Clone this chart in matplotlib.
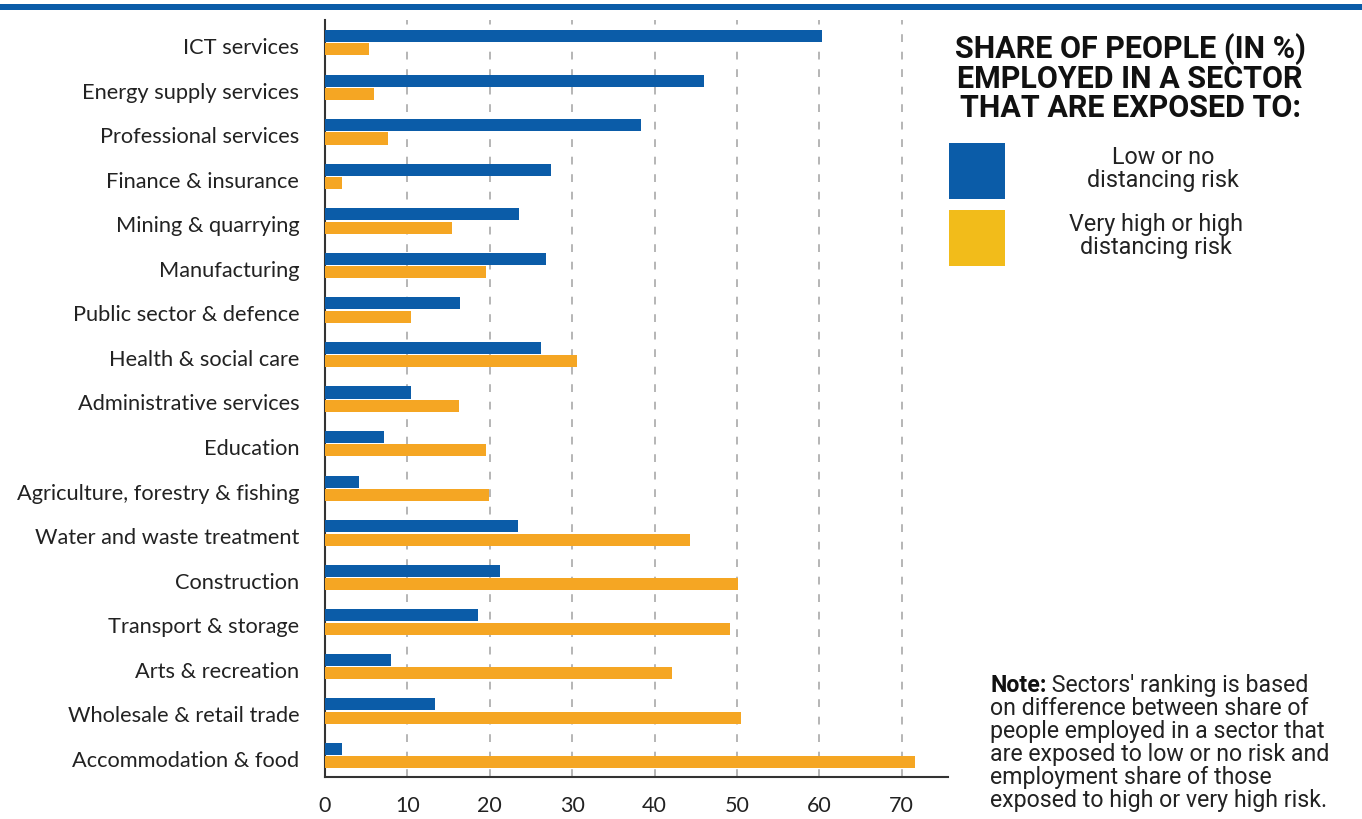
import matplotlib
matplotlib.use("Agg")
import matplotlib.pyplot as plt
import numpy as np
from matplotlib.patches import Rectangle

sectors = [
    "ICT services", "Energy supply services", "Professional services",
    "Finance & insurance", "Mining & quarrying", "Manufacturing",
    "Public sector & defence", "Health & social care",
    "Administrative services", "Education",
    "Agriculture, forestry & fishing", "Water and waste treatment",
    "Construction", "Transport & storage", "Arts & recreation",
    "Wholesale & retail trade", "Accommodation & food",
]
low_risk = [60.3, 46.0, 38.3, 27.4, 23.5, 26.8, 16.4, 26.2, 10.4, 7.2,
            4.1, 23.4, 21.3, 18.6, 8.0, 13.3, 2.1]
high_risk = [5.3, 5.9, 7.6, 2.1, 15.4, 19.5, 10.4, 30.6, 16.3, 19.5,
             19.9, 44.3, 50.1, 49.2, 42.1, 50.5, 71.6]
xticks = [0, 10, 20, 30, 40, 50, 60, 70]

BLUE = "#0b5ca8"
ORANGE = "#f5a623"
YELLOW = "#f2bc1a"

fig = plt.figure(figsize=(13.62, 8.2), dpi=100)
ax = fig.add_axes([0.2386, 0.0512, 0.4574, 0.9232])

y = np.arange(len(sectors))
ax.barh(y - 0.2, low_risk, height=0.27, color=BLUE, zorder=3)
ax.barh(y + 0.1, high_risk, height=0.27, color=ORANGE, zorder=3)

ax.set_ylim(len(sectors) - 0.57, -0.56)
ax.set_xlim(0, 75.6)
ax.set_yticks(y)
ax.set_yticklabels(sectors, family="Lato", fontsize=15.7, color="#222222")
ax.set_xticks(xticks)
ax.set_xticklabels([str(t) for t in xticks], family="Lato", fontsize=15.5, color="#222222")
ax.tick_params(axis="both", length=0)
ax.tick_params(axis="y", pad=18.5)
ax.tick_params(axis="x", pad=13)

ax.grid(axis="x", color="#b5b5b5", linestyle=(0, (4, 5)), linewidth=1.4, zorder=0)
ax.set_axisbelow(True)
for s in ["top", "right"]:
    ax.spines[s].set_visible(False)
for s in ["left", "bottom"]:
    ax.spines[s].set_color("#333333")
    ax.spines[s].set_linewidth(1.5)

# top blue band
fig.add_artist(Rectangle((0, 1 - 11 / 820), 1, 6 / 820, transform=fig.transFigure,
                         color=BLUE, lw=0))

# legend title
fig.text(1130 / 1362, 1 - 78 / 820,
         "SHARE OF PEOPLE (IN %)\nEMPLOYED IN A SECTOR\nTHAT ARE EXPOSED TO:",
         family="Roboto", weight="bold", fontsize=22, ha="center", va="center",
         linespacing=0.95, color="#111111")

# legend patches
fig.add_artist(Rectangle((949 / 1362, 1 - 200 / 820), 56 / 1362, 56 / 820,
                         transform=fig.transFigure, color=BLUE, lw=0))
fig.add_artist(Rectangle((949 / 1362, 1 - 267 / 820), 56 / 1362, 56 / 820,
                         transform=fig.transFigure, color=YELLOW, lw=0))
fig.text(1163 / 1362, 1 - 169 / 820, "Low or no\ndistancing risk",
         family="Roboto", fontsize=16.8, ha="center", va="center", linespacing=1.0,
         color="#222222")
fig.text(1156 / 1362, 1 - 236 / 820, "Very high or high\ndistancing risk",
         family="Roboto", fontsize=16.8, ha="center", va="center", linespacing=1.0,
         color="#222222")

# note
note = fig.text(990 / 1362, 1 - 686 / 820, "Note:", family="Roboto", weight="bold",
                fontsize=16.7, ha="left", va="center", color="#111111")
fig.text(990 / 1362, 1 - 697 / 820,
         "on difference between share of\n"
         "people employed in a sector that\n"
         "are exposed to low or no risk and\n"
         "employment share of those\n"
         "exposed to high or very high risk.",
         family="Roboto", fontsize=16.7, ha="left", va="top", linespacing=1.0,
         color="#222222")
ax.annotate(" Sectors' ranking is based", xy=(1, 0.5), xycoords=note,
            va="center", ha="left", family="Roboto", fontsize=16.7, color="#222222",
            annotation_clip=False)

fig.savefig("out.png", dpi=100)
